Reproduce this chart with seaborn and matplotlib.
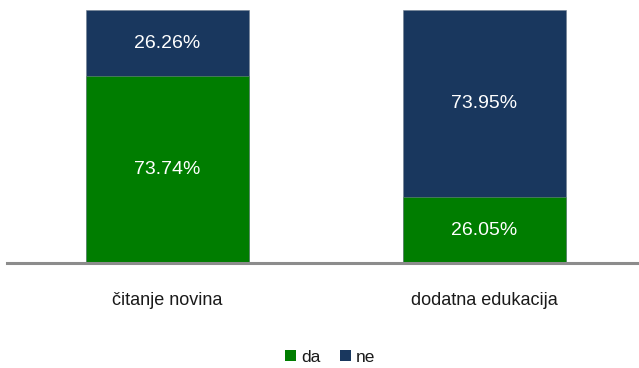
import matplotlib
matplotlib.use("Agg")
import matplotlib.pyplot as plt
from matplotlib.patches import Patch
import seaborn as sns
import pandas as pd

categories = ["čitanje novina", "dodatna edukacija"]
da_values = [73.74, 26.05]
ne_values = [26.26, 73.95]
series_names = ["da", "ne"]

green = "#007d00"
navy = "#19375e"

sns.set_theme(style="white")
plt.rcParams["font.family"] = ["Liberation Sans", "DejaVu Sans"]

df = pd.DataFrame({
    "kategorija": categories,
    "da": da_values,
    "ne": ne_values,
})
df["ukupno"] = df["da"] + df["ne"]

fig = plt.figure(figsize=(6.39, 3.68), dpi=100)
ax = fig.add_axes([7 / 639, 105 / 368, 631 / 639, 253 / 368])

# stacked bars: full height in navy, "da" share drawn over it in green
sns.barplot(data=df, x="kategorija", y="ukupno", color=navy, width=0.514,
            saturation=1, ax=ax, edgecolor="#6f7f8f", linewidth=0.4)
sns.barplot(data=df, x="kategorija", y="da", color=green, width=0.514,
            saturation=1, ax=ax, edgecolor="#6f8f7f", linewidth=0.4)

ax.set_xlim(-0.506, 1.484)
ax.set_ylim(0, 100)

for i, (d, n) in enumerate(zip(df["da"], df["ne"])):
    ax.text(i, d / 2, f"{d:.2f}%", ha="center", va="center",
            color="white", fontsize=14)
    ax.text(i, d + n / 2, f"{n:.2f}%", ha="center", va="center",
            color="white", fontsize=14)

for side in ["top", "right", "left"]:
    ax.spines[side].set_visible(False)
ax.spines["bottom"].set_color("#8c8c8c")
ax.spines["bottom"].set_linewidth(2.2)
ax.set_yticks([])
ax.set_xlabel("")
ax.set_ylabel("")
ax.tick_params(axis="x", length=0, pad=21, labelsize=13, labelcolor="#1a1a1a")

handles = [Patch(facecolor=green, edgecolor="none"),
           Patch(facecolor=navy, edgecolor="none")]
fig.legend(handles, series_names, loc="center", ncol=2, frameon=False,
           bbox_to_anchor=(330 / 639, 1 - 357 / 368), fontsize=12.5,
           handlelength=0.65, handleheight=0.65, handletextpad=0.3,
           columnspacing=1.1, labelcolor="#1a1a1a")

fig.savefig("out.png", dpi=100)
